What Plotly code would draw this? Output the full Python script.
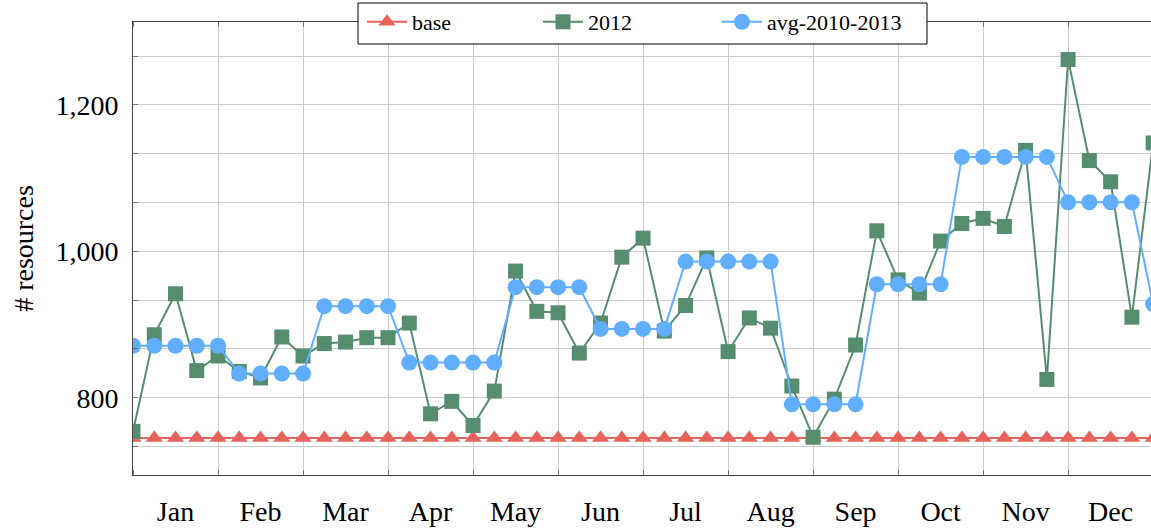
import plotly.graph_objects as go

weeks = list(range(49))
months = ["Jan", "Feb", "Mar", "Apr", "May", "Jun", "Jul", "Aug", "Sep", "Oct", "Nov", "Dec"]
month_pos = [2 + 4 * k for k in range(12)]
month_grid = [4 * k for k in range(13)]

base = [745] * 49
y2012 = [754, 886, 942, 837, 857, 836, 827, 883, 857, 874, 876, 882, 882,
         902, 778, 795, 762, 809, 973, 918, 916, 861, 902, 992, 1018, 891,
         926, 991, 863, 909, 895, 816, 746, 798, 872, 1028, 961, 943, 1014,
         1038, 1045, 1034, 1138, 825, 1262, 1124, 1095, 910, 1148]
avg = [871, 871, 871, 871, 871, 833, 833, 833, 833, 925, 925, 925, 925,
       848, 848, 848, 848, 848, 951, 951, 951, 951, 894, 894, 894, 894,
       986, 986, 986, 986, 986, 791, 791, 791, 791, 955, 955, 955, 955,
       1129, 1129, 1129, 1129, 1129, 1067, 1067, 1067, 1067, 928]

ytick_vals = [800, 1000, 1200]
ytick_text = ["800", "1,000", "1,200"]

FONT = "'Liberation Serif', 'DejaVu Serif', serif"
RED = "#E6625A"
GREEN = "#578D6F"
BLUE = "#61AEFF"
GRID = "rgb(205,205,205)"

W, H = 1151, 528
ML, MR, MT, MB = 133, 0, 22, 53
PW, PH = W - ML - MR, H - MT - MB

fig = go.Figure()
fig.add_trace(go.Scatter(x=weeks, y=base, name="base", mode="lines+markers",
                         line=dict(color=RED, width=2), legend="legend", showlegend=True,
                         marker=dict(symbol="triangle-up", size=15, color=RED)))
fig.add_trace(go.Scatter(x=weeks, y=y2012, name="2012", mode="lines+markers",
                         line=dict(color=GREEN, width=2), legend="legend2", showlegend=True,
                         marker=dict(symbol="square", size=15, color=GREEN)))
fig.add_trace(go.Scatter(x=weeks, y=avg, name="avg-2010-2013", mode="lines+markers",
                         line=dict(color=BLUE, width=2), legend="legend3", showlegend=True,
                         marker=dict(symbol="circle", size=16, color=BLUE)))

# legend frame
fig.add_shape(type="rect", xref="paper", yref="paper", layer="above",
              x0=(358 - ML) / PW, x1=(927 - ML) / PW,
              y0=(H - MB - 44) / PH, y1=(H - MB - 3) / PH,
              line=dict(color="black", width=1), fillcolor="white")


def leg(px):
    return dict(orientation="h", x=(px - ML) / PW, xanchor="left",
                y=(H - MB - 22) / PH, yanchor="middle", visible=True,
                bgcolor="rgba(0,0,0,0)", borderwidth=0,
                font=dict(family=FONT, size=22), itemwidth=40)


fig.update_layout(
    width=W, height=H, autosize=False, showlegend=True,
    margin=dict(l=ML, r=MR, t=MT, b=MB, autoexpand=False),
    paper_bgcolor="white", plot_bgcolor="white",
    font=dict(family=FONT, size=28, color="black"),
    legend=leg(362), legend2=leg(538), legend3=leg(717),
)

fig.update_xaxes(
    range=[0, 47.9], tickmode="array", tickvals=month_pos, ticktext=months,
    ticks="", showgrid=False, zeroline=False,
    showline=True, linecolor="#444", linewidth=1, mirror="allticks",
    ticklabelstandoff=11, automargin=False,
    tickfont=dict(family=FONT, size=28),
    minor=dict(tickmode="array", tickvals=month_grid, ticks="inside", ticklen=5,
               tickcolor="#777", showgrid=True, gridcolor=GRID, gridwidth=1),
)
fig.update_yaxes(
    range=[694.4, 1313.3], tickmode="array", tickvals=ytick_vals, ticktext=ytick_text,
    ticks="inside", ticklen=5, tickcolor="#777",
    showgrid=True, gridcolor=GRID, gridwidth=1, zeroline=False,
    showline=True, linecolor="#444", linewidth=1, mirror=False,
    ticklabelstandoff=8, automargin=False,
    tickfont=dict(family=FONT, size=28),
    title=dict(text="# resources", font=dict(family=FONT, size=28), standoff=13),
    minor=dict(dtick=200 / 3, tick0=800, ticks="inside", ticklen=5, tickcolor="#777",
               showgrid=True, gridcolor=GRID, gridwidth=1),
)

fig.write_html("out.html", config={"displayModeBar": False},
               post_script="document.body.style.margin='0';document.body.style.overflow='hidden';")
